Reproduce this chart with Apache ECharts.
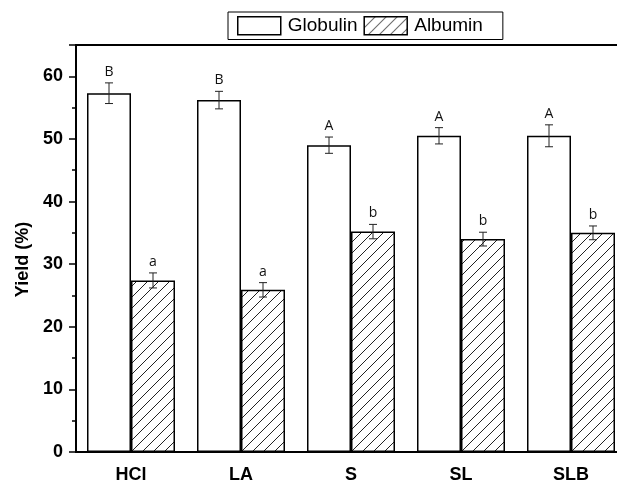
<!DOCTYPE html>
<html>
<head>
<meta charset="utf-8">
<script src="https://cdn.jsdelivr.net/npm/echarts@6/dist/echarts.min.js"></script>
<style>
  html, body { margin: 0; padding: 0; background: #fff; }
  #chart { width: 617px; height: 482px; }
</style>
</head>
<body>
<div id="chart"></div>
<script>
// data
var categories = ['HCl', 'LA', 'S', 'SL', 'SLB'];
var globulin = [57.3, 56.2, 49.0, 50.5, 50.5];
var globulinErr = [1.65, 1.4, 1.3, 1.3, 1.75];
var globulinLetters = ['B', 'B', 'A', 'A', 'A'];
var albumin = [27.4, 25.9, 35.2, 34.0, 35.0];
var albuminErr = [1.2, 1.15, 1.15, 1.1, 1.1];
var albuminLetters = ['a', 'a', 'b', 'b', 'b'];

var font = 'Liberation Sans, Arial, sans-serif';

// hatch fill  (////)
function hatch() {
  var s = 11;
  var c = document.createElement('canvas');
  c.width = s; c.height = s;
  var ctx = c.getContext('2d');
  ctx.fillStyle = '#fff';
  ctx.fillRect(0, 0, s, s);
  ctx.strokeStyle = '#222';
  ctx.lineWidth = 1;
  ctx.beginPath();
  ctx.moveTo(-1, s + 1); ctx.lineTo(s + 1, -1);
  ctx.moveTo(-1, 1); ctx.lineTo(1, -1);
  ctx.moveTo(s - 1, s + 1); ctx.lineTo(s + 1, s - 1);
  ctx.stroke();
  return c;
}

function errSeries(vals, errs, letters, side) {
  var data = [];
  for (var i = 0; i < vals.length; i++) {
    data.push([i, vals[i], errs[i]]);
  }
  return {
    type: 'custom',
    z: 10,
    silent: true,
    data: data,
    renderItem: function (params, api) {
      var band = api.size([1, 0])[0];
      var dx = side * band * 0.2;
      var v = api.value(1), e = api.value(2);
      var hi = api.coord([api.value(0), v + e]);
      var lo = api.coord([api.value(0), v - e]);
      var x = hi[0] + dx;
      var cap = 4;
      var st = { stroke: '#222', lineWidth: 1 };
      return {
        type: 'group',
        children: [
          { type: 'line', shape: { x1: x, y1: hi[1], x2: x, y2: lo[1] }, style: st },
          { type: 'line', shape: { x1: x - cap, y1: hi[1], x2: x + cap, y2: hi[1] }, style: st },
          { type: 'line', shape: { x1: x - cap, y1: lo[1], x2: x + cap, y2: lo[1] }, style: st },
          { type: 'text', x: x, y: hi[1] - 4,
            style: { text: letters[params.dataIndex], fill: '#111', font: '14px Open Sans, DejaVu Sans, sans-serif', align: 'center', verticalAlign: 'bottom' } }
        ]
      };
    }
  };
}

var chart = echarts.init(document.getElementById('chart'));
var pat = { image: hatch(), repeat: 'repeat' };

chart.setOption({
  animation: false,
  backgroundColor: '#fff',
  grid: { left: 76, top: 45, height: 407, width: 550, outerBoundsMode: 'none', containLabel: false,
          show: true, borderColor: '#000', borderWidth: 2 },
  legend: {
    left: 228, top: 12,
    padding: [4, 20, 4, 9],
    itemGap: 6,
    itemWidth: 43, itemHeight: 18,
    borderColor: '#000', borderWidth: 1,
    selectedMode: false,
    textStyle: { fontFamily: font, fontSize: 19, color: '#000', padding: [0, 0, 0, 2] },
    data: [
      { name: 'Globulin', icon: 'rect', itemStyle: { color: '#fff', borderColor: '#000', borderWidth: 1.5 } },
      { name: 'Albumin', icon: 'rect', itemStyle: { color: pat, borderColor: '#000', borderWidth: 1.5 } }
    ]
  },
  xAxis: {
    type: 'category',
    data: categories,
    axisLine: { lineStyle: { color: '#000', width: 2 } },
    axisTick: { alignWithLabel: true, length: 6, lineStyle: { color: '#000', width: 1.5 } },
    axisLabel: { fontFamily: font, fontWeight: 'bold', fontSize: 18, color: '#000', margin: 14 }
  },
  yAxis: {
    type: 'value',
    min: 0, max: 65, interval: 10,
    name: 'Yield (%)',
    nameLocation: 'middle',
    nameGap: 38,
    nameTextStyle: { fontFamily: font, fontWeight: 'bold', fontSize: 18, color: '#000', padding: [0, 22, 0, 0] },
    axisLine: { show: true, lineStyle: { color: '#000', width: 2 } },
    axisTick: { show: true, length: 7, lineStyle: { color: '#000', width: 1.5 } },
    minorTick: { show: true, splitNumber: 2, length: 4, lineStyle: { color: '#000', width: 1.5 } },
    splitLine: { show: false },
    axisLabel: {
      fontFamily: font, fontWeight: 'bold', fontSize: 18, color: '#000', margin: 13,
      formatter: function (v) { return v > 60 ? '' : v; }
    }
  },
  series: [
    { name: 'Globulin', type: 'bar', data: globulin, barWidth: 44, barGap: '0%',
      itemStyle: { color: '#fff', borderColor: '#000', borderWidth: 1.5 } },
    { name: 'Albumin', type: 'bar', data: albumin, barWidth: 44,
      itemStyle: { color: pat, borderColor: '#000', borderWidth: 1.5 } },
    errSeries(globulin, globulinErr, globulinLetters, -1),
    errSeries(albumin, albuminErr, albuminLetters, 1)
  ]
});
</script>
</body>
</html>
